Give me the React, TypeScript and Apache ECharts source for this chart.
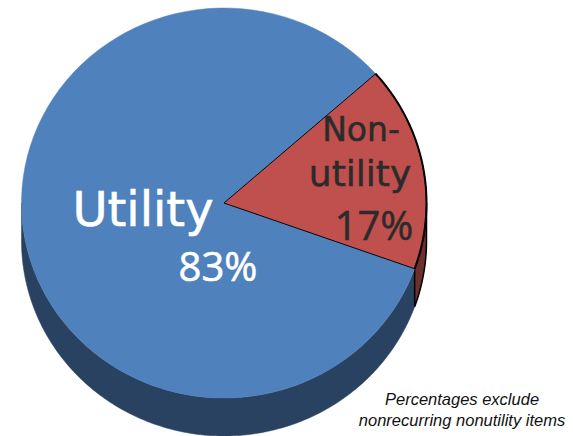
import React, { useEffect, useRef } from "react";
import * as echarts from "echarts";

const categories = ["Utility", "Non-utility"];
const shares = [83, 17];
const topColors = ["#4F81BD", "#C0504D"];
const sideColors = ["#2A4262", "#6F2F2D"];
const note = "Percentages exclude\nnonrecurring nonutility items";

const CX = 224, CY = 203, RX = 202.5, RY = 195, DEPTH = 38;
const START_DEG = 19.7;
const TOTAL = shares.reduce((a, b) => a + b, 0);

function sliceAngles(i: number): [number, number] {
  // slices run clockwise on screen from the lower-right boundary; first = Utility
  let before = 0;
  for (let k = 0; k < i; k++) before += shares[k];
  const a = START_DEG + (before / TOTAL) * 360;
  return [a, a + (shares[i] / TOTAL) * 360];
}

function rimPoints(a0: number, a1: number, dy: number): number[][] {
  const pts: number[][] = [];
  const n = Math.max(2, Math.ceil(Math.abs(a1 - a0)));
  for (let k = 0; k <= n; k++) {
    const t = ((a0 + ((a1 - a0) * k) / n) * Math.PI) / 180;
    pts.push([CX + RX * Math.cos(t), CY + RY * Math.sin(t) + dy]);
  }
  return pts;
}

function renderSide(params: any, api: any) {
  const i = params.dataIndex;
  const [a0, a1] = sliceAngles(i);
  const segs: number[][] = [];
  // visible lower half of the rim only (screen angles 0..180, also 360..540)
  for (const off of [0, 360]) {
    const lo = Math.max(a0, off), hi = Math.min(a1, off + 180);
    if (hi > lo) segs.push([lo, hi]);
  }
  return {
    type: "group",
    children: segs.map(([lo, hi]) => ({
      type: "polygon",
      shape: { points: [...rimPoints(lo, hi, 0), ...rimPoints(lo, hi, DEPTH).reverse()] },
      style: {
        fill: sideColors[i],
        stroke: i === 1 ? "#000" : sideColors[i],
        lineWidth: i === 1 ? 1.5 : 0.5,
      },
    })),
  };
}

function renderTop(params: any, api: any) {
  const i = params.dataIndex;
  const [a0, a1] = sliceAngles(i);
  const rad = (d: number) => (d * Math.PI) / 180;
  const children: any[] = [
    {
      type: "sector",
      x: CX,
      y: CY,
      scaleY: RY / RX,
      shape: { cx: 0, cy: 0, r0: 0, r: RX, startAngle: rad(a0), endAngle: rad(a1), clockwise: true },
      style: { fill: topColors[i], stroke: i === 1 ? "#000" : topColors[i], lineWidth: i === 1 ? 1 : 0.5 },
    },
  ];
  if (i === 1) {
    children.push({
      type: "polyline",
      shape: { points: rimPoints(a0, a1, 0) },
      style: { fill: "none", stroke: "#000", lineWidth: 2 },
    });
  }
  return { type: "group", children };
}

export default function App() {
  const ref = useRef<HTMLDivElement>(null);
  useEffect(() => {
    const chart = echarts.init(ref.current!, undefined, { renderer: "svg" });
    const data = categories.map((name, i) => ({ name, value: shares[i] }));
    const wordFont = '"DejaVu Sans", sans-serif';
    const numFont = '"Open Sans", sans-serif';
    const white = { fill: "#fff", stroke: "#fff", lineWidth: 0.6, align: "center", verticalAlign: "middle" };
    const dark = { fill: "#2b2b2b", stroke: "#2b2b2b", lineWidth: 0.5, align: "center", verticalAlign: "middle" };
    chart.setOption({
      animation: false,
      backgroundColor: "#fff",
      series: [
        { type: "custom", coordinateSystem: "none", renderItem: renderSide, data, z: 1, silent: true },
        { type: "custom", coordinateSystem: "none", renderItem: renderTop, data, z: 2, silent: true },
      ],
      graphic: [
        { type: "text", z: 10, x: 143, y: 209, style: { ...white, text: "Utility", font: `48px ${wordFont}` } },
        { type: "text", z: 10, x: 218, y: 265, style: { ...white, text: "83%", font: `40px ${numFont}` } },
        { type: "text", z: 10, x: 361, y: 129, style: { ...dark, text: "Non-", font: `33px ${wordFont}` } },
        { type: "text", z: 10, x: 360, y: 173, style: { ...dark, text: "utility", font: `36px ${wordFont}` } },
        { type: "text", z: 10, x: 374, y: 224, style: { ...dark, text: "17%", font: `40px ${numFont}` } },
        { type: "text", z: 10, x: 462, y: 409, style: { text: note, fill: "#111", font: 'italic 16.5px "Liberation Sans", Arial, sans-serif', align: "center", verticalAlign: "middle", lineHeight: 21 } },
      ],
    });
    return () => chart.dispose();
  }, []);
  return <div ref={ref} style={{ position: "absolute", left: 0, top: 0, width: 573, height: 436 }} />;
}
